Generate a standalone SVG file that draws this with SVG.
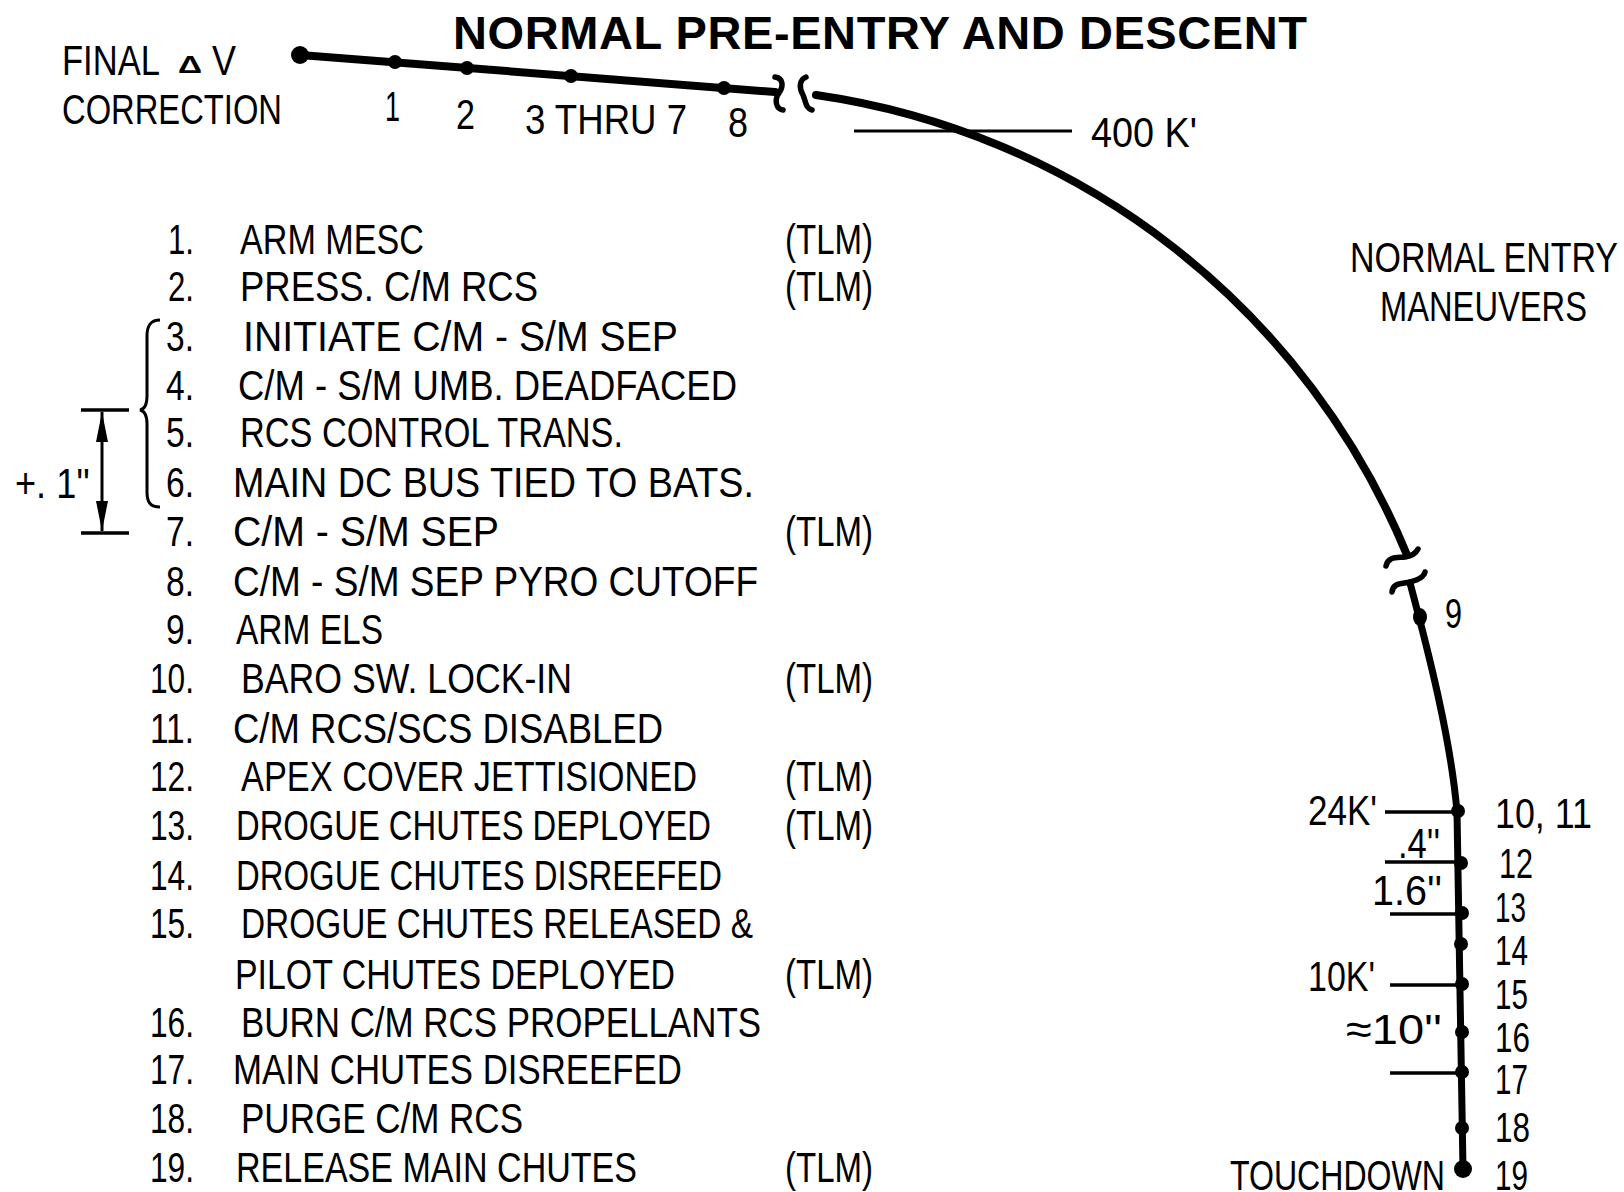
<svg xmlns="http://www.w3.org/2000/svg" width="1624" height="1192" viewBox="0 0 1624 1192">
<style>
.t{font-family:"Liberation Sans",Arial,sans-serif;font-size:43px;fill:#000}
.ttl{font-family:"Liberation Sans",Arial,sans-serif;font-size:47px;font-weight:bold;fill:#000}
.traj{fill:none;stroke:#000;stroke-width:8;stroke-linecap:round;stroke-linejoin:round}
.low{stroke-width:7}
.brk{fill:none;stroke:#000;stroke-width:5.5;stroke-linecap:round}
.tick{fill:none;stroke:#000;stroke-width:3.5}
.thin{fill:none;stroke:#000;stroke-width:3}
.dot{fill:#000}
</style>
<defs>
<marker id="ah" viewBox="0 0 30 12" refX="30" refY="6" markerWidth="30" markerHeight="12" markerUnits="userSpaceOnUse" orient="auto">
<path d="M0,0 L30,6 L0,12 Z" fill="#000"/>
</marker>
</defs>
<rect width="1624" height="1192" fill="#fff"/>

<g id="title">
<text class="ttl" x="453" y="49" textLength="854" lengthAdjust="spacing">NORMAL PRE-ENTRY AND DESCENT</text>
</g>

<g id="connectors">
<path class="traj" d="M300,55 L775,92"/>
<path class="traj" d="M816,95 A755.3,755.3 0 0 1 1407,555"/>
<path class="traj low" d="M1410,583 C1428,650 1451,740 1457,812 L1463,1169"/>
<path class="brk" d="M775,77 C783,78 784,86 779,93 C774,100 776,109 783,110"/>
<path class="brk" d="M806,77 C799,80 799,88 803,95 C806,101 805,108 812,110"/>
<path class="brk" d="M1386,566 C1388,556 1398,558 1405,557 C1412,556 1416,553 1418,549"/>
<path class="brk" d="M1392,592 C1393,582 1403,584 1410,582 C1418,580 1424,577 1425,572"/>
<line class="thin" x1="854" y1="131" x2="1072" y2="131"/>
<line class="tick" x1="1385" y1="812" x2="1458" y2="812"/>
<line class="tick" x1="1385" y1="862" x2="1461" y2="862"/>
<line class="tick" x1="1390" y1="914" x2="1462" y2="914"/>
<line class="tick" x1="1390" y1="985" x2="1462" y2="985"/>
<line class="tick" x1="1390" y1="1073" x2="1462" y2="1073"/>
</g>

<g id="points">
<circle class="dot" cx="300" cy="55" r="9"/>
<circle class="dot" cx="395" cy="62" r="7"/>
<circle class="dot" cx="467" cy="68" r="7"/>
<circle class="dot" cx="571" cy="76" r="7"/>
<circle class="dot" cx="724" cy="88" r="7"/>
<ellipse class="dot" cx="1420" cy="617" rx="7" ry="9"/>
<circle class="dot" cx="1458" cy="811" r="7"/>
<circle class="dot" cx="1461" cy="863" r="7"/>
<circle class="dot" cx="1462" cy="913" r="7"/>
<circle class="dot" cx="1461" cy="944" r="7"/>
<circle class="dot" cx="1462" cy="984" r="7"/>
<circle class="dot" cx="1462" cy="1032" r="7"/>
<circle class="dot" cx="1462" cy="1072" r="7"/>
<circle class="dot" cx="1462" cy="1128" r="7"/>
<circle class="dot" cx="1463" cy="1169" r="9"/>
</g>

<g id="top-labels">
<text class="t" x="62" y="75" textLength="98" lengthAdjust="spacingAndGlyphs">FINAL</text>
<text class="t" x="178" y="73" style="font-size:24px;font-weight:bold" textLength="24" lengthAdjust="spacingAndGlyphs">Δ</text>
<text class="t" x="212" y="75" textLength="24" lengthAdjust="spacingAndGlyphs">V</text>
<text class="t" x="62" y="124" textLength="220" lengthAdjust="spacingAndGlyphs">CORRECTION</text>
<text class="t" x="385" y="121" textLength="15" lengthAdjust="spacingAndGlyphs">1</text>
<text class="t" x="456" y="129" textLength="19" lengthAdjust="spacingAndGlyphs">2</text>
<text class="t" x="525" y="134" textLength="162" lengthAdjust="spacingAndGlyphs">3 THRU 7</text>
<text class="t" x="728" y="137" textLength="20" lengthAdjust="spacingAndGlyphs">8</text>
<text class="t" x="1091" y="147" textLength="106" lengthAdjust="spacingAndGlyphs">400 K'</text>
<text class="t" x="1350" y="272" textLength="268" lengthAdjust="spacingAndGlyphs">NORMAL ENTRY</text>
<text class="t" x="1380" y="321" textLength="207" lengthAdjust="spacingAndGlyphs">MANEUVERS</text>
</g>

<g id="descent-labels">
<text class="t" x="1445" y="628" textLength="17" lengthAdjust="spacingAndGlyphs">9</text>
<text class="t" x="1308" y="825" textLength="69" lengthAdjust="spacingAndGlyphs">24K'</text>
<text class="t" x="1398" y="858" textLength="42" lengthAdjust="spacingAndGlyphs">.4''</text>
<text class="t" x="1372" y="905" textLength="70" lengthAdjust="spacingAndGlyphs">1.6''</text>
<text class="t" x="1308" y="991" textLength="67" lengthAdjust="spacingAndGlyphs">10K'</text>
<text class="t" x="1346" y="1044" textLength="96" lengthAdjust="spacingAndGlyphs">≈10''</text>
<text class="t" x="1230" y="1190" textLength="215" lengthAdjust="spacingAndGlyphs">TOUCHDOWN</text>
<text class="t" x="1495" y="828" textLength="97" lengthAdjust="spacingAndGlyphs">10, 11</text>
<text class="t" x="1499" y="878" textLength="34" lengthAdjust="spacingAndGlyphs">12</text>
<text class="t" x="1495" y="922" textLength="31" lengthAdjust="spacingAndGlyphs">13</text>
<text class="t" x="1495" y="965" textLength="33" lengthAdjust="spacingAndGlyphs">14</text>
<text class="t" x="1495" y="1009" textLength="33" lengthAdjust="spacingAndGlyphs">15</text>
<text class="t" x="1495" y="1052" textLength="35" lengthAdjust="spacingAndGlyphs">16</text>
<text class="t" x="1495" y="1094" textLength="33" lengthAdjust="spacingAndGlyphs">17</text>
<text class="t" x="1495" y="1142" textLength="35" lengthAdjust="spacingAndGlyphs">18</text>
<text class="t" x="1495" y="1190" textLength="33" lengthAdjust="spacingAndGlyphs">19</text>
</g>

<g id="bracket">
<path class="thin" d="M160,320 C150,320 147,326 147,336 L147,396 C147,404 145,409 140,410 C145,411 147,416 147,424 L147,492 C147,502 150,507 160,507"/>
</g>

<g id="dimension">
<line class="tick" x1="81" y1="410" x2="129" y2="410"/>
<line class="tick" x1="81" y1="533" x2="129" y2="533"/>
<line class="thin" x1="102" y1="472" x2="102" y2="412" marker-end="url(#ah)"/>
<line class="thin" x1="102" y1="472" x2="102" y2="531" marker-end="url(#ah)"/>
<text class="t" x="15" y="498" textLength="75" lengthAdjust="spacingAndGlyphs">+. 1''</text>
</g>

<g id="list">
<text class="t" x="168" y="254" textLength="26" lengthAdjust="spacingAndGlyphs">1.</text>
<text class="t" x="240" y="254" textLength="184" lengthAdjust="spacingAndGlyphs">ARM MESC</text>
<text class="t" x="785" y="254" textLength="88" lengthAdjust="spacingAndGlyphs">(TLM)</text>

<text class="t" x="168" y="301" textLength="26" lengthAdjust="spacingAndGlyphs">2.</text>
<text class="t" x="240" y="301" textLength="298" lengthAdjust="spacingAndGlyphs">PRESS. C/M RCS</text>
<text class="t" x="785" y="301" textLength="88" lengthAdjust="spacingAndGlyphs">(TLM)</text>

<text class="t" x="166" y="351" textLength="28" lengthAdjust="spacingAndGlyphs">3.</text>
<text class="t" x="243" y="351" textLength="435" lengthAdjust="spacingAndGlyphs">INITIATE C/M - S/M SEP</text>

<text class="t" x="166" y="400" textLength="28" lengthAdjust="spacingAndGlyphs">4.</text>
<text class="t" x="238" y="400" textLength="499" lengthAdjust="spacingAndGlyphs">C/M - S/M UMB. DEADFACED</text>

<text class="t" x="166" y="447" textLength="28" lengthAdjust="spacingAndGlyphs">5.</text>
<text class="t" x="240" y="447" textLength="383" lengthAdjust="spacingAndGlyphs">RCS CONTROL TRANS.</text>

<text class="t" x="166" y="497" textLength="28" lengthAdjust="spacingAndGlyphs">6.</text>
<text class="t" x="233" y="497" textLength="521" lengthAdjust="spacingAndGlyphs">MAIN DC BUS TIED TO BATS.</text>

<text class="t" x="166" y="546" textLength="28" lengthAdjust="spacingAndGlyphs">7.</text>
<text class="t" x="233" y="546" textLength="266" lengthAdjust="spacingAndGlyphs">C/M - S/M SEP</text>
<text class="t" x="785" y="546" textLength="88" lengthAdjust="spacingAndGlyphs">(TLM)</text>

<text class="t" x="166" y="596" textLength="28" lengthAdjust="spacingAndGlyphs">8.</text>
<text class="t" x="233" y="596" textLength="525" lengthAdjust="spacingAndGlyphs">C/M - S/M SEP PYRO CUTOFF</text>

<text class="t" x="166" y="644" textLength="28" lengthAdjust="spacingAndGlyphs">9.</text>
<text class="t" x="236" y="644" textLength="147" lengthAdjust="spacingAndGlyphs">ARM ELS</text>

<text class="t" x="150" y="693" textLength="44" lengthAdjust="spacingAndGlyphs">10.</text>
<text class="t" x="241" y="693" textLength="331" lengthAdjust="spacingAndGlyphs">BARO SW. LOCK-IN</text>
<text class="t" x="785" y="693" textLength="88" lengthAdjust="spacingAndGlyphs">(TLM)</text>

<text class="t" x="150" y="743" textLength="44" lengthAdjust="spacingAndGlyphs">11.</text>
<text class="t" x="233" y="743" textLength="430" lengthAdjust="spacingAndGlyphs">C/M RCS/SCS DISABLED</text>

<text class="t" x="150" y="791" textLength="44" lengthAdjust="spacingAndGlyphs">12.</text>
<text class="t" x="241" y="791" textLength="456" lengthAdjust="spacingAndGlyphs">APEX COVER JETTISIONED</text>
<text class="t" x="785" y="791" textLength="88" lengthAdjust="spacingAndGlyphs">(TLM)</text>

<text class="t" x="150" y="840" textLength="44" lengthAdjust="spacingAndGlyphs">13.</text>
<text class="t" x="236" y="840" textLength="475" lengthAdjust="spacingAndGlyphs">DROGUE CHUTES DEPLOYED</text>
<text class="t" x="785" y="840" textLength="88" lengthAdjust="spacingAndGlyphs">(TLM)</text>

<text class="t" x="150" y="890" textLength="44" lengthAdjust="spacingAndGlyphs">14.</text>
<text class="t" x="236" y="890" textLength="486" lengthAdjust="spacingAndGlyphs">DROGUE CHUTES DISREEFED</text>

<text class="t" x="150" y="938" textLength="44" lengthAdjust="spacingAndGlyphs">15.</text>
<text class="t" x="241" y="938" textLength="512" lengthAdjust="spacingAndGlyphs">DROGUE CHUTES RELEASED &amp;</text>
<text class="t" x="235" y="989" textLength="440" lengthAdjust="spacingAndGlyphs">PILOT CHUTES DEPLOYED</text>
<text class="t" x="785" y="989" textLength="88" lengthAdjust="spacingAndGlyphs">(TLM)</text>

<text class="t" x="150" y="1037" textLength="44" lengthAdjust="spacingAndGlyphs">16.</text>
<text class="t" x="241" y="1037" textLength="520" lengthAdjust="spacingAndGlyphs">BURN C/M RCS PROPELLANTS</text>

<text class="t" x="150" y="1084" textLength="44" lengthAdjust="spacingAndGlyphs">17.</text>
<text class="t" x="233" y="1084" textLength="449" lengthAdjust="spacingAndGlyphs">MAIN CHUTES DISREEFED</text>

<text class="t" x="150" y="1133" textLength="44" lengthAdjust="spacingAndGlyphs">18.</text>
<text class="t" x="241" y="1133" textLength="282" lengthAdjust="spacingAndGlyphs">PURGE C/M RCS</text>

<text class="t" x="150" y="1182" textLength="44" lengthAdjust="spacingAndGlyphs">19.</text>
<text class="t" x="236" y="1182" textLength="401" lengthAdjust="spacingAndGlyphs">RELEASE MAIN CHUTES</text>
<text class="t" x="785" y="1182" textLength="88" lengthAdjust="spacingAndGlyphs">(TLM)</text>
</g>
</svg>
